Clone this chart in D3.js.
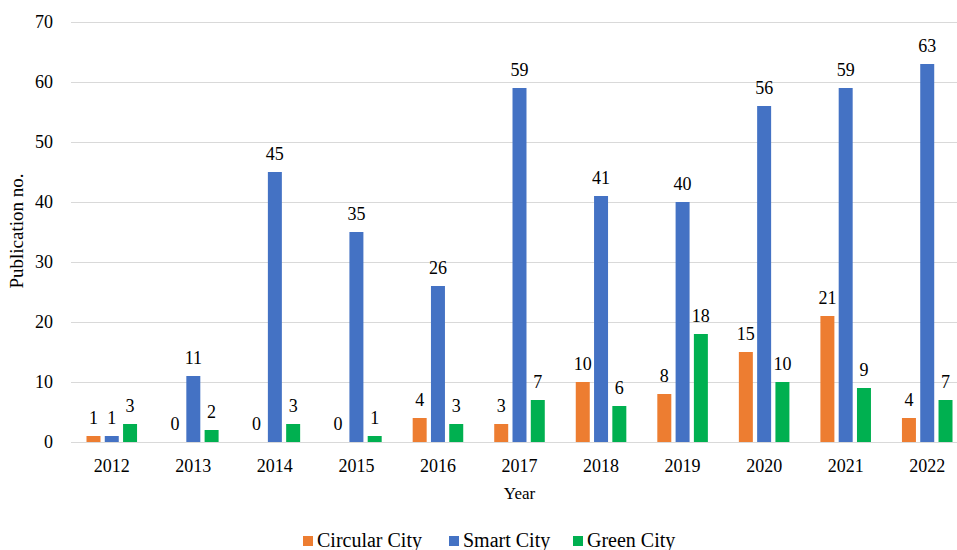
<!DOCTYPE html>
<html>
<head>
<meta charset="utf-8">
<script src="https://cdn.jsdelivr.net/npm/d3@7"></script>
<style>
  body { margin: 0; background: #fff; }
  svg { display: block; font-family: "Liberation Serif", "Times New Roman", serif; }
</style>
</head>
<body>
<svg id="chart" width="957" height="550"></svg>
<script>
// data
var years = ["2012", "2013", "2014", "2015", "2016", "2017", "2018", "2019", "2020", "2021", "2022"];
var seriesNames = ["Circular City", "Smart City", "Green City"];
var circular = [1, 0, 0, 0, 4, 3, 10, 8, 15, 21, 4];
var smart = [1, 11, 45, 35, 26, 59, 41, 40, 56, 59, 63];
var green = [3, 2, 3, 1, 3, 7, 6, 18, 10, 9, 7];
var yTicks = [0, 10, 20, 30, 40, 50, 60, 70];
var colors = ["#ED7D31", "#4472C4", "#00B050"];

var valuesBySeries = [circular, smart, green];
var rows = years.map(function(yr, i) {
  return { year: yr, vals: seriesNames.map(function(s, k) { return { key: s, k: k, v: valuesBySeries[k][i] }; }) };
});

var svg = d3.select("#chart");
var plotLeft = 71, plotRight = 968, plotTop = 22, plotBottom = 442;

var x0 = d3.scaleBand().domain(years).range([plotLeft, plotRight]).padding(0);
var x1 = d3.scaleBand().domain(seriesNames)
  .range([x0.bandwidth() * 0.19, x0.bandwidth() * 0.81])
  .paddingInner(0.235).paddingOuter(0);
var y = d3.scaleLinear().domain([0, 70]).range([plotBottom, plotTop]);

// gridlines
svg.append("g")
  .selectAll("line")
  .data(yTicks)
  .enter()
  .append("line")
  .attr("x1", plotLeft)
  .attr("x2", plotRight)
  .attr("y1", function(d) { return Math.round(y(d)) + 0.5; })
  .attr("y2", function(d) { return Math.round(y(d)) + 0.5; })
  .attr("stroke", "#d9d9d9")
  .attr("stroke-width", 1);

// y axis labels
var yAxis = svg.append("g")
  .attr("transform", "translate(" + (plotLeft - 18) + ",0)")
  .call(d3.axisLeft(y).tickValues(yTicks).tickSize(0).tickPadding(0));
yAxis.select(".domain").remove();
yAxis.selectAll("text")
  .attr("font-size", 18)
  .attr("font-family", "Liberation Serif, Times New Roman, serif")
  .attr("fill", "#000");

// x axis labels
var xAxis = svg.append("g")
  .attr("transform", "translate(0," + plotBottom + ")")
  .call(d3.axisBottom(x0).tickSize(0).tickPadding(17));
xAxis.select(".domain").remove();
xAxis.selectAll("text")
  .attr("font-size", 18)
  .attr("font-family", "Liberation Serif, Times New Roman, serif")
  .attr("fill", "#000");

// bars
var groups = svg.append("g")
  .selectAll("g")
  .data(rows)
  .enter()
  .append("g")
  .attr("transform", function(d) { return "translate(" + x0(d.year) + ",0)"; });

groups.selectAll("rect")
  .data(function(d) { return d.vals; })
  .enter()
  .append("rect")
  .attr("x", function(d) { return x1(d.key); })
  .attr("y", function(d) { return y(d.v); })
  .attr("width", x1.bandwidth())
  .attr("height", function(d) { return plotBottom - y(d.v); })
  .attr("fill", function(d) { return colors[d.k]; });

// value labels
groups.selectAll("text")
  .data(function(d) { return d.vals; })
  .enter()
  .append("text")
  .attr("x", function(d) { return x1(d.key) + x1.bandwidth() / 2; })
  .attr("y", function(d) { return y(d.v) - 12; })
  .attr("text-anchor", "middle")
  .attr("font-size", 18)
  .attr("fill", "#000")
  .text(function(d) { return d.v; });

// axis titles
svg.append("text")
  .attr("x", (plotLeft + plotRight) / 2)
  .attr("y", 499)
  .attr("text-anchor", "middle")
  .attr("font-size", 17)
  .text("Year");

svg.append("text")
  .attr("transform", "translate(23,231) rotate(-90)")
  .attr("text-anchor", "middle")
  .attr("font-size", 19)
  .text("Publication no.");

// legend
var legendX = [303, 449, 573];
var legend = svg.append("g")
  .selectAll("g")
  .data(seriesNames)
  .enter()
  .append("g")
  .attr("transform", function(d, i) { return "translate(" + legendX[i] + ",536)"; });
legend.append("rect")
  .attr("width", 10)
  .attr("height", 10)
  .attr("fill", function(d, i) { return colors[i]; });
legend.append("text")
  .attr("x", 14)
  .attr("y", 11)
  .attr("font-size", 20)
  .text(function(d) { return d; });
</script>
</body>
</html>
